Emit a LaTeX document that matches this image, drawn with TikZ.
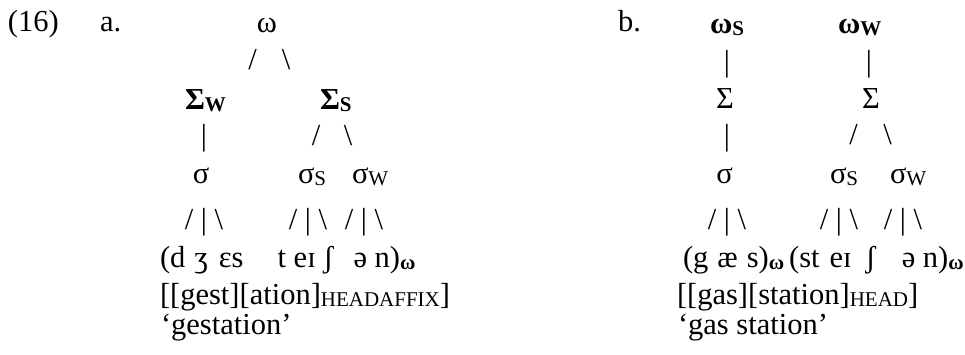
\documentclass[tikz,border=0pt]{standalone}
\usepackage{fontspec}
\setmainfont{Liberation Serif}
\newcommand\sbsc[1]{\raisebox{-2.5pt}{\fontsize{21}{21}\selectfont #1}}
\newcommand\sbbf[1]{\raisebox{-2.5pt}{\fontsize{21}{21}\selectfont\bfseries #1}}
\begin{document}
\begin{tikzpicture}[x=1pt,y=1pt,
  every node/.style={inner sep=0pt,outer sep=0pt,font=\fontsize{30.5}{36}\selectfont},
  lbl/.style={anchor=base west},
  ctr/.style={anchor=base},
  br/.style={anchor=base}]
\useasboundingbox (0,0) rectangle (965,-354);
% ---------- labels
\node[lbl] (num) at (8,-31) {(16)};
\node[lbl] (la) at (100,-31) {a.};
\node[lbl] (lb) at (618,-31) {b.};
% ---------- tree a
\node[ctr] (aw) at (267,-32) {ω};
\node[br] (aws1) at (252.5,-69) {/};
\node[br] (aws2) at (286,-69) {\textbackslash};
\node[lbl] (aSw) at (185,-109) {\textbf{Σ}\sbbf{W}};
\node[lbl] (aSs) at (320,-109) {\textbf{Σ}\sbbf{S}};
\node[br] (ab1) at (204,-145) {|};
\node[br] (as1) at (316,-145) {/};
\node[br] (as2) at (348,-145) {\textbackslash};
\node[ctr] (asig) at (201,-183) {σ};
\node[lbl] (asigs) at (298,-183) {σ\sbsc{S}};
\node[lbl] (asigw) at (352,-183) {σ\sbsc{W}};
\node[br] (ag1) at (204,-229) {/ | \textbackslash};
\node[br] (ag2) at (308,-229) {/ | \textbackslash};
\node[br] (ag3) at (364,-229) {/ | \textbackslash};
\node[lbl] (aph) at (160,-267) {(d\hspace{9pt}ʒ\hspace{11pt}εs\hspace{34pt}t eɪ ʃ\hspace{20pt}ə n)\sbbf{ω}};
\node[lbl] (amo) at (160,-304) {[[gest][ation]\sbsc{HEADAFFIX}]};
\node[lbl] (agl) at (161,-334) {‘gestation’};
% ---------- tree b
\node[lbl] (bws) at (710,-33) {\textbf{ω}\sbbf{S}};
\node[lbl] (bww) at (838,-33) {\textbf{ω}\sbbf{W}};
\node[br] (bb1) at (727,-71) {|};
\node[br] (bb2) at (869,-71) {|};
\node[ctr] (bS1) at (725,-108) {Σ};
\node[ctr] (bS2) at (871,-108) {Σ};
\node[br] (bb3) at (727,-145) {|};
\node[br] (bs1) at (853.5,-144) {/};
\node[br] (bs2) at (887.5,-144) {\textbackslash};
\node[ctr] (bsig) at (724.5,-183) {σ};
\node[lbl] (bsigs) at (830,-183) {σ\sbsc{S}};
\node[lbl] (bsigw) at (890,-183) {σ\sbsc{W}};
\node[br] (bg1) at (727,-229) {/ | \textbackslash};
\node[br] (bg2) at (839,-229) {/ | \textbackslash};
\node[br] (bg3) at (903,-229) {/ | \textbackslash};
\node[lbl] (bph) at (683,-267) {(g\hspace{9pt}æ\hspace{9pt}s)\sbbf{ω}\hspace{5pt}(st\hspace{10pt}eɪ\hspace{14pt}ʃ\hspace{26pt}ə n)\sbbf{ω}};
\node[lbl] (bmo) at (677,-304) {[[gas][station]\sbsc{HEAD}]};
\node[lbl] (bgl) at (678,-334) {‘gas station’};
\end{tikzpicture}
\end{document}
